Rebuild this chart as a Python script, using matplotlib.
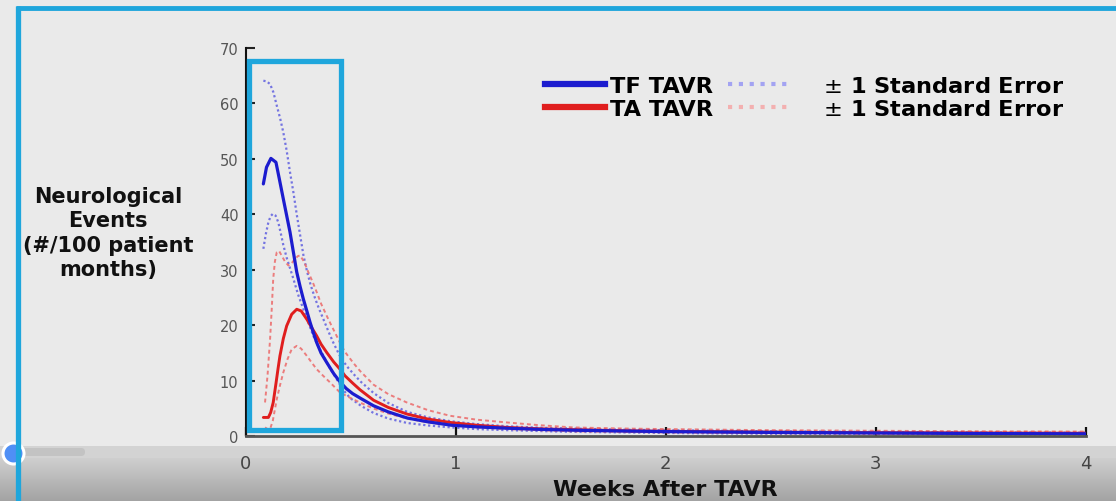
import matplotlib
matplotlib.use("Agg")
import matplotlib.pyplot as plt
import numpy as np
from matplotlib.lines import Line2D
from matplotlib.patches import Rectangle, Circle, FancyBboxPatch
from matplotlib.colors import LinearSegmentedColormap

# ---------------- data ----------------
tf_weeks = [0.085, 0.10, 0.121, 0.145, 0.16, 0.18, 0.196, 0.212, 0.228, 0.244, 0.26, 0.275,
            0.292, 0.307, 0.323, 0.339, 0.36, 0.387, 0.42, 0.45, 0.48, 0.51, 0.55, 0.61, 0.68,
            0.77, 0.87, 0.98, 1.1, 1.25, 1.4, 1.56, 1.8, 2.0, 2.5, 3.0, 3.5, 4.0]
tf_rate = [45.5, 48.5, 50.1, 49.4, 46.6, 42.8, 39.8, 36.8, 33.2, 29.6, 27.0, 24.8,
           22.6, 20.6, 18.7, 16.9, 15.0, 13.3, 11.3, 9.8, 8.6, 7.7, 6.8, 5.5, 4.4,
           3.3, 2.6, 2.0, 1.7, 1.45, 1.25, 1.1, 0.95, 0.85, 0.7, 0.6, 0.5, 0.45]

ta_weeks = [0.085, 0.109, 0.12, 0.132, 0.145, 0.155, 0.164, 0.18, 0.196, 0.22, 0.244, 0.265,
            0.292, 0.315, 0.339, 0.36, 0.387, 0.42, 0.45, 0.474, 0.51, 0.545, 0.61, 0.68,
            0.77, 0.87, 0.974, 1.1, 1.244, 1.4, 1.56, 1.8, 2.0, 2.5, 3.0, 3.5, 4.0]
ta_rate = [3.4, 3.4, 4.3, 6.1, 9.5, 12.2, 14.5, 17.6, 19.9, 22.0, 22.9, 22.6,
           21.1, 19.6, 18.1, 16.6, 15.1, 13.4, 12.1, 10.9, 9.6, 8.4, 6.5, 5.2,
           4.0, 3.1, 2.5, 2.0, 1.6, 1.35, 1.2, 1.0, 0.9, 0.75, 0.65, 0.6, 0.55]

tf_hi_weeks = [0.085, 0.10, 0.117, 0.133, 0.149, 0.165, 0.180, 0.196, 0.212, 0.228, 0.244, 0.26,
               0.276, 0.292, 0.31, 0.331, 0.35, 0.371, 0.395, 0.418, 0.44, 0.458, 0.49, 0.52,
               0.55, 0.61, 0.68, 0.77, 0.87, 0.98, 1.1, 1.25, 1.4, 1.56, 1.8, 2.0, 2.5, 3.0, 3.5, 4.0]
tf_hi = [64.1, 64.0, 63.5, 62.0, 59.6, 57.3, 54.8, 51.5, 47.6, 44.0, 40.0, 36.3,
         32.6, 29.9, 27.3, 24.9, 23.0, 21.1, 18.9, 16.9, 15.2, 13.9, 12.3, 11.0,
         9.8, 7.8, 6.0, 4.4, 3.4, 2.7, 2.2, 1.8, 1.55, 1.4, 1.2, 1.1, 0.9, 0.8, 0.7, 0.65]

tf_lo_weeks = [0.085, 0.097, 0.109, 0.12, 0.13, 0.143, 0.156, 0.168, 0.18, 0.196, 0.212, 0.228,
               0.25, 0.275, 0.3, 0.323, 0.347, 0.371, 0.4, 0.434, 0.465, 0.498, 0.55, 0.61,
               0.68, 0.77, 0.87, 0.98, 1.1, 1.25, 1.4, 1.56, 1.8, 2.0, 2.5, 3.0, 3.5, 4.0]
tf_lo = [33.8, 36.5, 38.6, 39.7, 40.1, 39.8, 38.6, 36.6, 34.5, 32.2, 30.3, 28.4,
         25.6, 23.0, 20.4, 18.1, 16.2, 14.5, 12.4, 10.3, 8.4, 6.9, 5.5, 4.2,
         3.2, 2.4, 1.95, 1.6, 1.3, 1.1, 0.95, 0.8, 0.7, 0.6, 0.45, 0.4, 0.35, 0.3]

ta_hi_weeks = [0.093, 0.105, 0.117, 0.125, 0.132, 0.14, 0.149, 0.16, 0.172, 0.188, 0.204, 0.22,
               0.236, 0.25, 0.26, 0.28, 0.299, 0.32, 0.339, 0.36, 0.387, 0.41, 0.434, 0.455,
               0.474, 0.514, 0.545, 0.61, 0.68, 0.768, 0.87, 0.974, 1.1, 1.244, 1.4, 1.56,
               1.8, 2.0, 2.5, 3.0, 3.5, 4.0]
ta_hi = [6.1, 11.0, 17.5, 23.0, 28.4, 31.5, 33.2, 33.4, 32.6, 31.5, 30.8, 31.2,
         32.0, 32.5, 32.6, 31.4, 29.6, 27.8, 26.0, 23.9, 21.7, 19.9, 18.1, 16.5,
         15.2, 13.2, 11.8, 9.3, 7.6, 6.1, 4.7, 3.7, 3.0, 2.5, 2.0, 1.6,
         1.4, 1.3, 1.1, 1.0, 0.9, 0.85]

ta_lo_weeks = [0.093, 0.105, 0.117, 0.13, 0.149, 0.165, 0.18, 0.2, 0.22, 0.244, 0.265, 0.292,
               0.315, 0.339, 0.37, 0.403, 0.45, 0.5, 0.55, 0.61, 0.68, 0.77, 0.87, 0.98,
               1.1, 1.25, 1.4, 1.56, 1.8, 2.0, 2.5, 3.0, 3.5, 4.0]
ta_lo = [1.6, 1.3, 1.3, 2.8, 6.7, 9.3, 11.5, 13.9, 15.7, 16.3, 15.8, 14.5,
         13.3, 12.1, 10.9, 9.7, 7.9, 6.9, 6.0, 5.0, 4.1, 3.2, 2.5, 2.0,
         1.6, 1.3, 1.1, 0.9, 0.8, 0.7, 0.55, 0.45, 0.4, 0.35]

x_ticks = [0, 1, 2, 3, 4]
y_ticks = [0, 10, 20, 30, 40, 50, 60, 70]
series_labels = ["TF TAVR", "TA TAVR"]
se_label = "$\\pm$ 1 Standard Error"
x_label = "Weeks After TAVR"
y_label = "Neurological\nEvents\n(#/100 patient\nmonths)"

# ---------------- figure ----------------
W, H = 1116, 502
BG = "#eaeaea"
CYAN = "#1fa6dc"
BLUE = "#1c1ccf"
RED = "#e01e1e"
BLUE_SE = "#5f5fe0"
RED_SE = "#ec6a6a"

fig = plt.figure(figsize=(W / 100, H / 100), dpi=100, facecolor=BG)

# background / video player bar (decorative)
bg = fig.add_axes([0, 0, 1, 1], zorder=0)
bg.axis("off")
grad = np.linspace(0, 1, 64).reshape(-1, 1)
cmap = LinearSegmentedColormap.from_list("bar", ["#d0d0d0", "#a3a3a3"])
bg.imshow(grad, extent=(0, W, H, 458), cmap=cmap, aspect="auto", interpolation="bilinear")
bg.add_patch(Rectangle((0, 447), W, 11.5, color="#d3d3d3", lw=0))
bg.add_patch(FancyBboxPatch((4, 449), 81, 8, boxstyle="round,pad=0,rounding_size=4",
                            color="#c3c3c3", lw=0))
bg.set_xlim(0, W)
bg.set_ylim(H, 0)

# main axes
ax = fig.add_axes([245.5 / W, 1 - 437.3 / H, 840 / W, (437.3 - 49) / H], zorder=1)
ax.set_facecolor("none")
ax.set_xlim(0, 4)
ax.set_ylim(0, 70)
for s in ("top", "right"):
    ax.spines[s].set_visible(False)
ax.spines["left"].set_color("#111111")
ax.spines["left"].set_linewidth(1.5)
ax.spines["bottom"].set_color("#555555")
ax.spines["bottom"].set_linewidth(2)
ax.set_xticks(x_ticks)
ax.set_yticks(y_ticks)
ax.tick_params(axis="y", direction="in", length=6.5, width=1.5, pad=5,
               labelsize=10.5, labelcolor="#555555", color="#222222")
ax.tick_params(axis="x", direction="in", length=6.5, width=1.6, pad=13,
               labelsize=13, labelcolor="#444444", color="#111111")

ax.plot(tf_hi_weeks, tf_hi, color=BLUE_SE, lw=1.6, ls=(0, (1, 1.2)), alpha=0.85)
ax.plot(tf_lo_weeks, tf_lo, color=BLUE_SE, lw=1.6, ls=(0, (1, 1.2)), alpha=0.85)
ax.plot(ta_hi_weeks, ta_hi, color=RED_SE, lw=1.4, ls=(0, (2, 1.6)), alpha=0.85)
ax.plot(ta_lo_weeks, ta_lo, color=RED_SE, lw=1.4, ls=(0, (2, 1.6)), alpha=0.85)
ax.plot(ta_weeks, ta_rate, color=RED, lw=2.1, solid_capstyle="round")
ax.plot(tf_weeks, tf_rate, color=BLUE, lw=2.3, solid_capstyle="round")

# highlight box on the first days
ax.add_patch(Rectangle((0.0167, 1.14), 0.455 - 0.0167, 67.6 - 1.14, fill=False,
                       ec=CYAN, lw=3.8, clip_on=False, zorder=10))

# legend
h_tf = Line2D([], [], color=BLUE, lw=4.5)
h_ta = Line2D([], [], color=RED, lw=4.5)
h_tf_se = Line2D([], [], color="#a3a3f2", lw=3, ls=(0, (1, 1.6)))
h_ta_se = Line2D([], [], color="#f3b0b0", lw=3, ls=(0, (1, 1.6)))
ax.legend([h_tf, h_ta, h_tf_se, h_ta_se],
          [series_labels[0], series_labels[1], "    " + se_label, "    " + se_label],
          ncol=2, frameon=False, prop=dict(weight="bold", size=16.2),
          handlelength=2.65, handletextpad=0.22, columnspacing=0.66, labelspacing=0.14,
          borderpad=0, borderaxespad=0, loc="upper left",
          bbox_to_anchor=(545 / W, 1 - 77 / H), bbox_transform=fig.transFigure)

fig.text(665 / W, 1 - 490 / H, x_label, ha="center", va="center",
         fontsize=16, fontweight="bold", color="#111111")
fig.text(108 / W, 1 - 233.5 / H, y_label, ha="center", va="center", multialignment="center",
         fontsize=15, fontweight="bold", color="#111111", linespacing=1.27)

# overlay: outer frame and player scrubber (decorative)
ov = fig.add_axes([0, 0, 1, 1], zorder=5)
ov.set_facecolor("none")
ov.axis("off")
ov.set_xlim(0, W)
ov.set_ylim(H, 0)
ov.plot([17.5, 17.5], [7, H], color=CYAN, lw=3.8, solid_capstyle="butt")
ov.plot([15.5, W], [9.3, 9.3], color=CYAN, lw=3.5, solid_capstyle="butt")
ov.add_patch(Circle((13.5, 454.5), 10.5, fc="#4f8ff5", ec="white", lw=2.2))

fig.savefig("out.png", dpi=100, facecolor=BG)
